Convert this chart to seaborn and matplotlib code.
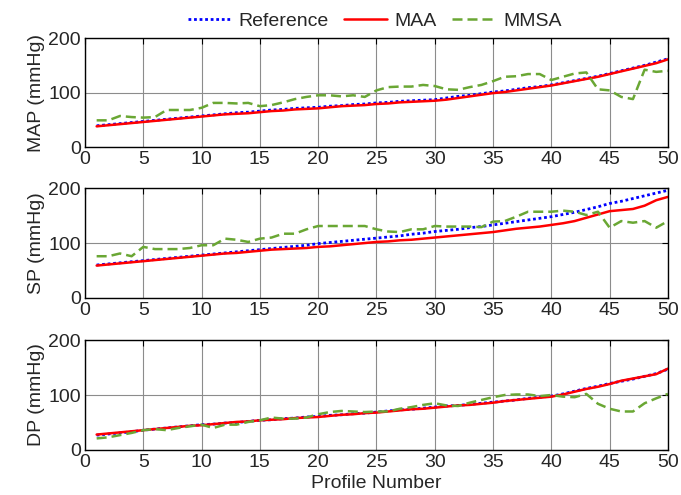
import numpy as np
import pandas as pd
import seaborn as sns
import matplotlib.pyplot as plt

# --- Data ---
profiles = list(range(1, 51))

ref_map = [39, 41, 43, 45, 47, 49, 51, 53, 55, 57,
           59, 61, 63, 64, 66, 68, 69, 71, 72, 73,
           75, 76, 78, 79, 81, 82, 84, 85, 86, 87,
           90, 93, 95, 98, 101, 103, 106, 109, 111, 114,
           118, 122, 126, 130, 135, 140, 145, 150, 156, 162]
maa_map = [38, 40, 42, 44, 46, 48, 50, 52, 54, 56,
           58, 60, 61, 62, 64, 66, 67, 69, 70, 71,
           73, 75, 76, 77, 79, 80, 82, 83, 84, 85,
           87, 90, 93, 96, 99, 101, 104, 107, 110, 113,
           117, 121, 125, 129, 134, 139, 144, 149, 154, 161]
mmsa_map = [49, 49, 57, 55, 54, 55, 68, 68, 68, 72,
            81, 81, 80, 81, 75, 77, 82, 88, 92, 95,
            95, 93, 95, 92, 104, 110, 111, 111, 114, 112,
            106, 105, 110, 114, 121, 129, 130, 134, 134, 123,
            129, 135, 137, 106, 104, 92, 88, 142, 138, 140]

ref_sp = [60, 62, 64, 66, 68, 70, 72, 74, 76, 78,
          80, 82, 84, 86, 88, 90, 92, 94, 96, 99,
          101, 103, 105, 107, 109, 111, 113, 116, 118, 121,
          123, 125, 128, 130, 133, 136, 139, 142, 145, 148,
          152, 156, 161, 166, 172, 176, 181, 186, 191, 196]
maa_sp = [59, 61, 63, 65, 67, 69, 71, 73, 75, 77,
          79, 81, 82, 84, 86, 88, 89, 90, 91, 93,
          94, 96, 98, 100, 102, 103, 105, 106, 108, 110,
          112, 114, 116, 118, 120, 123, 126, 128, 130, 133,
          136, 140, 146, 152, 158, 160, 162, 168, 178, 184]
mmsa_sp = [76, 76, 81, 76, 93, 89, 89, 89, 91, 96,
           96, 108, 106, 102, 108, 110, 117, 117, 125, 131,
           131, 131, 131, 131, 125, 121, 120, 125, 125, 131,
           130, 130, 130, 129, 139, 140, 148, 157, 157, 157,
           159, 157, 151, 157, 128, 140, 137, 140, 128, 140]

ref_dp = [27, 29, 31, 33, 36, 38, 40, 42, 44, 46,
          47, 49, 50, 52, 54, 55, 57, 58, 60, 61,
          63, 64, 66, 67, 69, 71, 73, 74, 76, 78,
          80, 81, 83, 85, 87, 89, 91, 94, 96, 98,
          102, 107, 112, 116, 121, 125, 129, 134, 139, 147]
maa_dp = [28, 30, 32, 34, 36, 38, 40, 42, 44, 45,
          47, 49, 51, 52, 54, 55, 56, 58, 59, 60,
          62, 64, 65, 67, 68, 70, 72, 74, 75, 77,
          79, 81, 82, 84, 86, 89, 91, 93, 95, 97,
          101, 106, 111, 115, 120, 126, 130, 134, 138, 148]
mmsa_dp = [21, 23, 27, 31, 36, 38, 36, 40, 43, 46,
           40, 46, 46, 51, 54, 59, 57, 57, 59, 65,
           69, 71, 70, 69, 70, 70, 75, 78, 82, 85,
           81, 80, 86, 91, 96, 100, 101, 101, 98, 100,
           97, 96, 102, 84, 75, 70, 70, 85, 94, 102]

panel_labels = ['MAP (mmHg)', 'SP (mmHg)', 'DP (mmHg)']
series_names = ['Reference', 'MAA', 'MMSA']

# --- Plotting ---
sns.set_style('white')
plt.rcParams['font.family'] = ['Liberation Sans', 'DejaVu Sans']

fig = plt.figure(figsize=(6.81, 4.95), dpi=100)
panel_pos = [
    [0.1248, 0.703, 0.856, 0.220],
    [0.1248, 0.398, 0.856, 0.222],
    [0.1248, 0.091, 0.856, 0.222],
]

panels = [
    (ref_map, maa_map, mmsa_map),
    (ref_sp, maa_sp, mmsa_sp),
    (ref_dp, maa_dp, mmsa_dp),
]

styles = {
    'Reference': dict(color='#0000ff', linestyle=(0, (1, 1)), linewidth=2.0),
    'MAA': dict(color='#ff0000', linestyle='-', linewidth=1.8),
    'MMSA': dict(color='#6aa734', linestyle=(0, (4, 2)), linewidth=1.8),
}

axes = []
for pos, label, series in zip(panel_pos, panel_labels, panels):
    ax = fig.add_axes(pos)
    df = pd.DataFrame({'Profile': profiles})
    for name, vals in zip(series_names, series):
        df[name] = vals
    for name in series_names:
        sns.lineplot(data=df, x='Profile', y=name, ax=ax, label=name,
                     legend=False, **styles[name])
    ax.set_xlim(0, 50)
    ax.set_ylim(0, 200)
    ax.set_xticks(np.arange(0, 51, 5))
    ax.set_yticks([0, 100, 200])
    ax.grid(True, color='#8c8c8c', linewidth=0.8)
    ax.tick_params(direction='in', top=True, right=True, length=4,
                   labelsize=14, pad=3, color='black')
    for sp in ax.spines.values():
        sp.set_color('black')
        sp.set_linewidth(1.0)
    ax.set_ylabel(label, fontsize=14, labelpad=2)
    ax.set_xlabel('')
    axes.append(ax)

axes[-1].set_xlabel('Profile Number', fontsize=14, labelpad=3)

handles, labels = axes[0].get_legend_handles_labels()
fig.legend(handles, labels, loc='center', ncol=3, frameon=False,
           bbox_to_anchor=(0.55, 0.958), fontsize=14,
           handlelength=2.2, columnspacing=0.8, handletextpad=0.4)

fig.savefig('out.png', dpi=100)
